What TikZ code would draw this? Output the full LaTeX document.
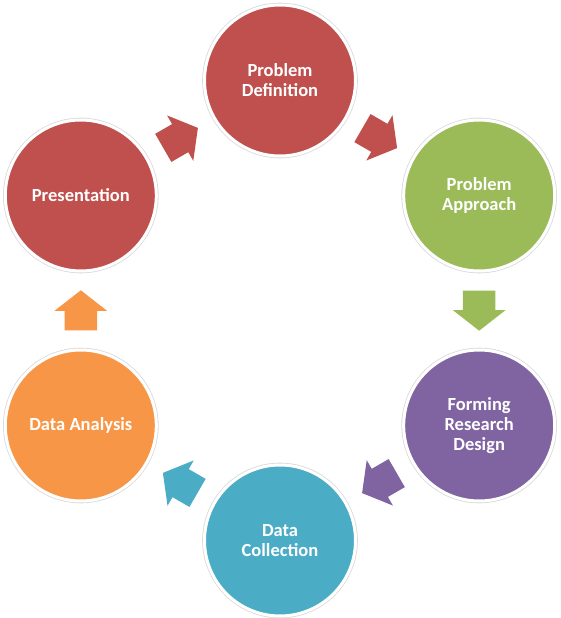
\documentclass[tikz,border=0pt]{standalone}
\usepackage{fontspec}
\setmainfont{Carlito}
\usepackage{tikz}
\usetikzlibrary{shapes.arrows, calc}
\definecolor{stagered}{HTML}{C0504D}
\definecolor{stagegreen}{HTML}{9BBB59}
\definecolor{stagepurple}{HTML}{8064A2}
\definecolor{stageblue}{HTML}{4BACC6}
\definecolor{stageorange}{HTML}{F79646}
\definecolor{ringline}{HTML}{D9D9D9}
\tikzset{
  stage/.style    = {circle, minimum size=151pt, inner sep=0pt, align=center,
                     draw=white, line width=3pt, text=white,
                     preaction={draw=ringline, line width=4.6pt},
                     font=\fontsize{18.5}{20}\selectfont\bfseries},
  flowarrow/.style = {single arrow, draw=none, inner xsep=0pt, inner ysep=16pt,
                      minimum height=40pt, anchor=tail,
                      single arrow head extend=10pt, single arrow tip angle=104},
}

\begin{document}
\begin{tikzpicture}[x=1pt, y=1pt]
  \useasboundingbox (-280,-307.5) rectangle (280,310.5);

  \node[stage, fill=stagered]    (def)  at (90:230)   {Problem\\Definition};
  \node[stage, fill=stagegreen]  (appr) at (30:230)   {Problem\\Approach};
  \node[stage, fill=stagepurple] (form) at (-30:230)  {Forming\\Research\\Design};
  \node[stage, fill=stageblue]   (coll) at (-90:230)  {Data\\Collection};
  \node[stage, fill=stageorange] (anal) at (-150:230) {Data Analysis};
  \node[stage, fill=stagered]    (pres) at (150:230)  {Presentation};

  % arrows start 20pt back from the midpoint between two stages
  \node[flowarrow, fill=stagered,    rotate=30]   (a1) at ($(pres)!0.5!(def)!20pt!(pres)$)  {};
  \node[flowarrow, fill=stagered,    rotate=-30]  (a2) at ($(def)!0.5!(appr)!20pt!(def)$)   {};
  \node[flowarrow, fill=stagegreen,  rotate=-90]  (a3) at ($(appr)!0.5!(form)!20pt!(appr)$) {};
  \node[flowarrow, fill=stagepurple, rotate=-150] (a4) at ($(form)!0.5!(coll)!20pt!(form)$) {};
  \node[flowarrow, fill=stageblue,   rotate=150]  (a5) at ($(coll)!0.5!(anal)!20pt!(coll)$) {};
  \node[flowarrow, fill=stageorange, rotate=90]   (a6) at ($(anal)!0.5!(pres)!20pt!(anal)$) {};
\end{tikzpicture}
\end{document}
